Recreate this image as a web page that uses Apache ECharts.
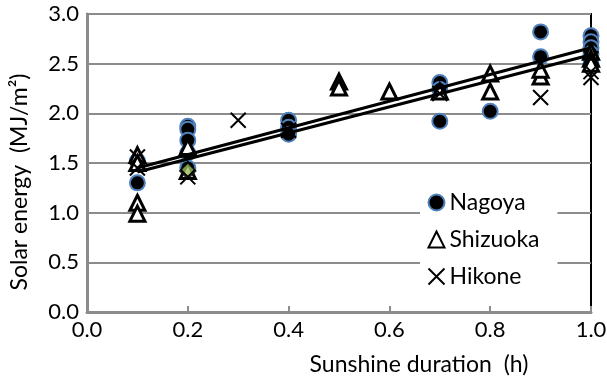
<!DOCTYPE html>
<html><head><meta charset="utf-8">
<script src="https://cdn.jsdelivr.net/npm/echarts@6/dist/echarts.min.js"></script>
<style>html,body{margin:0;padding:0;background:#fff}#c{width:607px;height:376px}</style>
</head><body><div id="c"></div>
<script>
var xTicks = [0, 0.2, 0.4, 0.6, 0.8, 1.0];
var yTicks = [0, 0.5, 1.0, 1.5, 2.0, 2.5, 3.0];
var nagoya = [[0.1,1.52],[0.1,1.30],[0.2,1.87],[0.2,1.84],[0.2,1.73],[0.2,1.60],[0.2,1.45],
  [0.4,1.93],[0.4,1.86],[0.4,1.79],[0.7,2.31],[0.7,2.24],[0.7,1.92],[0.8,2.02],
  [0.9,2.82],[0.9,2.57],[1.0,2.78],[1.0,2.72],[1.0,2.66],[1.0,2.60],[1.0,2.55],[1.0,2.50]];
var shizuoka = [[0.1,1.58],[0.1,1.50],[0.1,1.10],[0.1,0.99],[0.2,1.66],[0.2,1.42],
  [0.5,2.32],[0.5,2.26],[0.6,2.22],[0.7,2.22],[0.8,2.40],[0.8,2.22],[0.9,2.37],[0.9,2.44],
  [1.0,2.62],[1.0,2.55],[1.0,2.50]];
var hikone = [[0.1,1.56],[0.1,1.45],[0.2,1.36],[0.3,1.93],[0.4,1.83],[0.7,2.20],[0.9,2.16],
  [1.0,2.36],[1.0,2.42],[1.0,2.55]];
var other = [[0.2,1.42]];
var fitA = [[0.1,1.45],[1.0,2.66]];
var fitB = [[0.1,1.41],[1.0,2.59]];

var FONT = 'Lato';
var chart = echarts.init(document.getElementById('c'));
chart.setOption({
  animation: false,
  textStyle: {fontFamily: FONT},
  grid: {left: 87, right: 16, top: 14, bottom: 64, show: true, borderColor: '#000', borderWidth: 2,
         backgroundColor: 'transparent', containLabel: false, outerBoundsMode: 'none'},
  legend: {
    orient: 'vertical', left: 420, top: 187, itemGap: 14, itemWidth: 16, itemHeight: 16,
    backgroundColor: '#fff', padding: [4, 18, 4, 6],
    textStyle: {fontFamily: FONT, fontSize: 23, color: '#000'},
    data: ['Nagoya', 'Shizuoka', 'Hikone']
  },
  xAxis: {
    type: 'value', min: xTicks[0], max: xTicks[xTicks.length-1], interval: 0.2,
    name: 'Sunshine duration  (h)', nameLocation: 'middle', nameGap: 41,
    nameTextStyle: {fontFamily: FONT, fontSize: 23, color: '#000', padding: [0, 0, 0, 160]},
    axisLine: {show: true, lineStyle: {color: '#8c8c8c', width: 3}},
    axisTick: {show: true, inside: true, length: 6, lineStyle: {color: '#8c8c8c', width: 2}},
    axisLabel: {fontFamily: FONT, fontSize: 22, color: '#000', margin: 7, formatter: function(v){return v.toFixed(1);}},
    splitLine: {show: false}
  },
  yAxis: {
    type: 'value', min: yTicks[0], max: yTicks[yTicks.length-1], interval: 0.5,
    name: 'Solar energy  (MJ/m\u00B2)', nameLocation: 'middle', nameGap: 56,
    nameTextStyle: {fontFamily: FONT, fontSize: 23, color: '#000', padding: [0, 38, 0, 0]},
    axisLine: {show: true, lineStyle: {color: '#8c8c8c', width: 3}},
    axisTick: {show: false},
    axisLabel: {fontFamily: FONT, fontSize: 22, color: '#000', margin: 8, formatter: function(v){return v.toFixed(1);}},
    splitLine: {show: true, lineStyle: {color: '#8c8c8c', width: 2}}
  },
  series: [
    {name: 'Nagoya', type: 'scatter', data: nagoya, symbol: 'circle', symbolSize: 15,
     itemStyle: {color: '#000', borderColor: '#4f81bd', borderWidth: 2, opacity: 1}, z: 3},
    {name: 'Shizuoka', type: 'scatter', data: shizuoka, symbol: 'triangle', symbolSize: 15,
     itemStyle: {color: '#fff', borderColor: '#000', borderWidth: 3, opacity: 1}, z: 4},
    {name: 'Hikone', type: 'scatter', data: hikone, symbol: 'path://M0,0L10,10M10,0L0,10', symbolSize: 15,
     itemStyle: {color: 'none', borderColor: '#000', borderWidth: 2, opacity: 1}, z: 5},
    {name: 'other', type: 'scatter', data: other, symbol: 'diamond', symbolSize: 16,
     itemStyle: {color: '#9bbb59', borderColor: '#000', borderWidth: 1.5}, z: 4},
    {name: 'fitA', type: 'line', data: fitA, symbol: 'none', lineStyle: {color: '#000', width: 3}, z: 6},
    {name: 'fitB', type: 'line', data: fitB, symbol: 'none', lineStyle: {color: '#000', width: 3}, z: 6}
  ]
});
</script></body></html>
